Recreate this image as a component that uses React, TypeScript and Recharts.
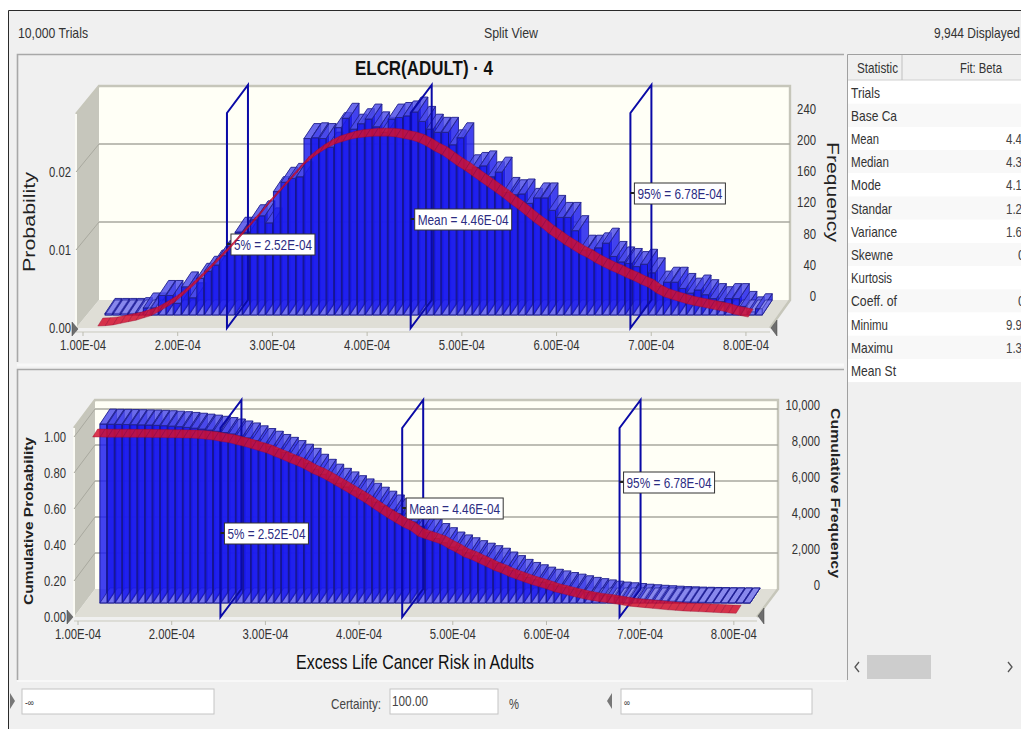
import React from 'react';
import { Bar, CartesianGrid, ComposedChart, Line, ReferenceLine, XAxis, YAxis } from 'recharts';

const binCenters = [
  1.156, 1.237, 1.318, 1.398, 1.479, 1.56, 1.641, 1.722, 1.802, 1.883,
  1.964, 2.045, 2.126, 2.206, 2.287, 2.368, 2.449, 2.53, 2.61, 2.691,
  2.772, 2.853, 2.934, 3.014, 3.095, 3.176, 3.257, 3.338, 3.418, 3.499,
  3.58, 3.661, 3.742, 3.822, 3.903, 3.984, 4.065, 4.146, 4.226, 4.307,
  4.388, 4.469, 4.55, 4.63, 4.711, 4.792, 4.873, 4.954, 5.034, 5.115,
  5.196, 5.277, 5.358, 5.438, 5.519, 5.6, 5.681, 5.762, 5.842, 5.923,
  6.004, 6.085, 6.166, 6.246, 6.327, 6.408, 6.489, 6.57, 6.65, 6.731,
  6.812, 6.893, 6.974, 7.054, 7.135, 7.216, 7.297, 7.378, 7.458, 7.539,
  7.62, 7.701, 7.782, 7.862, 7.943, 8.024,
];
const frequency = [
  2, 2, 2, 2, 3, 9, 9, 25, 25, 15,
  36, 22, 47, 56, 64, 76, 88, 106, 106, 122,
  127, 118, 158, 170, 175, 177, 226, 227, 226, 215,
  240, 252, 238, 245, 251, 241, 234, 251, 253, 255,
  260, 248, 238, 234, 234, 218, 227, 186, 189, 191,
  177, 183, 157, 154, 155, 143, 150, 150, 134, 125,
  125, 108, 83, 83, 86, 92, 75, 68, 66, 62,
  65, 54, 37, 42, 42, 34, 28, 32, 26, 21,
  17, 21, 21, 11, 4, 8,
];
const betaFit = [
  0.00025, 0.0003, 0.0004, 0.0006, 0.0008, 0.001, 0.0013, 0.0016, 0.0021, 0.0027,
  0.0033, 0.0041, 0.005, 0.0059, 0.0069, 0.0079, 0.0089, 0.0099, 0.011, 0.0121,
  0.0132, 0.0143, 0.0155, 0.0166, 0.0177, 0.0188, 0.0199, 0.021, 0.0218, 0.0225,
  0.0231, 0.0236, 0.0239, 0.0242, 0.0244, 0.0245, 0.0246, 0.0246, 0.0246, 0.0245,
  0.0243, 0.0241, 0.0238, 0.0233, 0.0227, 0.0222, 0.0215, 0.0208, 0.0202, 0.0195,
  0.0188, 0.0181, 0.0174, 0.0167, 0.0159, 0.0152, 0.0144, 0.0136, 0.0129, 0.0121,
  0.0114, 0.0107, 0.0101, 0.0095, 0.009, 0.0084, 0.0079, 0.0074, 0.007, 0.0065,
  0.0061, 0.0056, 0.0052, 0.0045, 0.004, 0.0037, 0.0034, 0.0031, 0.0029, 0.0027,
  0.0025, 0.0023, 0.0021, 0.0018, 0.0016, 0.0014,
];
const cumFrequency = [
  9940, 9930, 9925, 9915, 9905, 9895, 9885, 9870, 9850, 9825,
  9795, 9755, 9710, 9660, 9605, 9540, 9470, 9390, 9280, 9170,
  9010, 8860, 8710, 8530, 8370, 8190, 7990, 7760, 7430, 7150,
  6880, 6650, 6450, 6240, 6060, 5820, 5600, 5380, 5170, 4960,
  4730, 4500, 4260, 3930, 3580, 3350, 3110, 2950, 2790, 2630,
  2490, 2350, 2210, 2000, 1800, 1590, 1420, 1290, 1160, 1040,
  950, 860, 770, 680, 590, 520, 450, 380, 330, 290,
  250, 210, 180, 150, 125, 100, 80, 65, 50, 40,
  30, 22, 15, 10, 6, 2,
];
const cumBetaFit = [
  1, 1, 0.999, 0.999, 0.999, 0.998, 0.998, 0.998, 0.997, 0.997,
  0.996, 0.996, 0.995, 0.994, 0.992, 0.988, 0.983, 0.975, 0.969, 0.958,
  0.948, 0.936, 0.923, 0.911, 0.893, 0.877, 0.858, 0.842, 0.822, 0.798,
  0.78, 0.758, 0.733, 0.71, 0.685, 0.66, 0.635, 0.605, 0.578, 0.55,
  0.525, 0.5, 0.48, 0.449, 0.434, 0.42, 0.405, 0.38, 0.36, 0.335,
  0.32, 0.3, 0.28, 0.26, 0.245, 0.225, 0.21, 0.195, 0.18, 0.168,
  0.155, 0.14, 0.13, 0.12, 0.11, 0.1, 0.092, 0.085, 0.08, 0.073,
  0.067, 0.06, 0.056, 0.052, 0.048, 0.044, 0.04, 0.037, 0.034, 0.032,
  0.03, 0.028, 0.026, 0.024, 0.022, 0.021,
];

const xTicks = [1, 2, 3, 4, 5, 6, 7, 8];
const probTicks = [0, 0.01, 0.02];
const freqTicks = [0, 40, 80, 120, 160, 200, 240];
const cumProbTicks = [0, 0.2, 0.4, 0.6, 0.8, 1];
const cumFreqTicks = [0, 2000, 4000, 6000, 8000, 10000];
const markerValues = [2.52, 4.46, 6.78];
const markerNames = ['5%', 'Mean', '95%'];
const statNames = ['Trials', 'Base Ca', 'Mean', 'Median', 'Mode', 'Standar', 'Variance', 'Skewne', 'Kurtosis', 'Coeff. of', 'Minimu', 'Maximu', 'Mean St'];
const statNameWidths = [29, 46, 28, 38, 30, 41, 46, 42, 41, 46, 37, 42, 45];
const statValues = ['', '', '4.4', '4.3', '4.1', '1.2', '1.6', '0', '', '0', '9.9', '1.3', ''];

const FONT = "'Liberation Sans', Arial, sans-serif";

const freqRows = binCenters.map((x, i) => ({ x, count: frequency[i], fit: betaFit[i] }));
const cumRows = binCenters.map((x, i) => ({ x, count: cumFrequency[i], fit: cumBetaFit[i] }));

const BAR_W = 7.6;

// see-through box: the faces stack up, so only neighbouring bars give the deep blue
const Box3D = (baseShift: number) => (props: any) => {
  const { x, y, width, height } = props;
  if (x == null) return null;
  const w = width;
  const fx = x + 11;
  const ft = y + baseShift + 15;
  const fb = y + height + baseShift + 15;
  const dx = 10;
  const dy = -15;
  const p = (pts: number[][]) => pts.map(q => q.join(',')).join(' ');
  const face = 'rgba(26,26,238,0.58)';
  return (
    <g stroke="#16168c" strokeWidth={0.9}>
      <rect x={fx + dx} y={ft + dy} width={w} height={Math.max(0, fb - ft)} fill={face} stroke="none" />
      <polygon points={p([[fx, ft], [fx + dx, ft + dy], [fx + dx, fb + dy], [fx, fb]])} fill={face} stroke="none" />
      <polygon points={p([[fx + w, ft], [fx + w + dx, ft + dy], [fx + w + dx, fb + dy], [fx + w, fb]])} fill={face} stroke="#2a2a90" />
      <rect x={fx} y={ft} width={w} height={Math.max(0, fb - ft)} fill={face} />
      <polygon points={p([[fx, ft], [fx + w, ft], [fx + w + dx, ft + dy], [fx + dx, ft + dy]])} fill="rgba(95,95,232,0.6)" stroke="#22228c" />
      <polygon points={p([[fx, fb], [fx + w, fb], [fx + w + dx, fb + dy], [fx + dx, fb + dy]])} fill="rgba(125,125,250,0.45)" strokeWidth={0.7} />
    </g>
  );
};

// red fit ribbon, one sheared segment for each bin
const makeRibbon = () => {
  let prev: { x: number; y: number } | null = null;
  return (props: any) => {
    const { cx, cy, index } = props;
    const last = index === 0 ? null : prev;
    prev = { x: cx, y: cy };
    if (!last) return <g key={index} />;
    const pts = [[last.x, last.y], [cx, cy], [cx + 5, cy - 8], [last.x + 5, last.y - 8]];
    return (
      <polygon
        key={index}
        points={pts.map(q => q.join(',')).join(' ')}
        fill="rgba(212,16,46,0.84)"
        stroke="rgba(150,10,50,0.55)"
        strokeWidth={0.7}
      />
    );
  };
};

const XTick = (props: any) => {
  const { x, y, payload } = props;
  return (
    <g>
      <line x1={x} x2={x} y1={y - 4} y2={y} stroke="#bbbbb0" />
      <text x={x} y={y + 14} textAnchor="middle" fontFamily={FONT} fontSize={15} fill="#333" textLength={46} lengthAdjust="spacingAndGlyphs">
        {payload.value.toFixed(2)}E-04
      </text>
    </g>
  );
};

const LeftTick = (offset: number) => (props: any) => {
  const { x, y, payload } = props;
  return (
    <text x={x + offset} y={y + 5} textAnchor="end" fontFamily={FONT} fontSize={15} fill="#333" textLength={22} lengthAdjust="spacingAndGlyphs">
      {payload.value.toFixed(2)}
    </text>
  );
};

const RightTick = (offset: number) => (props: any) => {
  const { x, y, payload } = props;
  const label = payload.value.toLocaleString('en-US');
  const digits = String(payload.value).length;
  return (
    <text x={x + offset} y={y + 5} textAnchor="end" fontFamily={FONT} fontSize={15} fill="#333" textLength={digits * 6.3 + (digits > 3 ? 3 : 0)} lengthAdjust="spacingAndGlyphs">
      {label}
    </text>
  );
};

const GridShape = (g: any) => (props: any) => {
  const y = props.y1;
  return (
    <g key={props.key ?? y} fill="none" stroke="#a9a99f" strokeWidth={1.4}>
      <line x1={g.left} y1={y} x2={g.left + g.depthX} y2={y - g.depthY} strokeWidth={1} />
      <line x1={g.left + g.depthX} y1={y - g.depthY} x2={g.backRight} y2={y - g.depthY} />
    </g>
  );
};

const MarkerShape = (g: any, label: string, boxTop: number, boxW: number) => (props: any) => {
  const x = props.x1;
  const y0 = g.bottom;
  const y1 = g.markerFrontTop;
  const pts = [[x, y0], [x, y1], [x + 21, y1 - g.depthY], [x + 21, y0 - g.depthY]];
  return (
    <g>
      <polygon points={pts.map(q => q.join(',')).join(' ')} fill="none" stroke="#0a0aa6" strokeWidth={2} />
      <line x1={x} x2={x + 4} y1={boxTop + 10} y2={boxTop + 10} stroke="#222" strokeWidth={2} />
      <rect x={x + 4} y={boxTop} width={boxW} height={21} fill="#fff" stroke="#333" />
      <text x={x + 7} y={boxTop + 15.5} fontFamily={FONT} fontSize={15} fill="#2c2c82" textLength={boxW - 6} lengthAdjust="spacingAndGlyphs">
        {label}
      </text>
    </g>
  );
};

const Panel = ({ rows, g, leftTicks, rightTicks, leftDomain, rightDomain, xDomain, boxTops, baseShift }: any) => (
  <div style={{ position: 'absolute', left: 0, top: 0 }}>
    <ComposedChart
      width={g.width}
      height={g.height}
      data={rows}
      margin={{ top: g.top, bottom: g.height - g.bottom - 30, left: 0, right: g.width - g.right - 70 }}
    >
      <CartesianGrid yAxisId="prob" vertical={false} horizontal={GridShape(g)} horizontalValues={leftTicks.slice(1)} />
      <XAxis dataKey="x" type="number" domain={xDomain} ticks={xTicks} axisLine={false} tickLine={false} height={30} tick={XTick} interval={0} />
      <YAxis yAxisId="prob" orientation="left" type="number" domain={leftDomain} ticks={leftTicks} axisLine={false} tickLine={false} width={g.left} tick={LeftTick(g.leftLabel)} interval={0} />
      <YAxis yAxisId="freq" orientation="right" type="number" domain={rightDomain} ticks={rightTicks} axisLine={false} tickLine={false} width={70} tick={RightTick(g.rightLabel)} interval={0} />
      <Bar yAxisId="freq" dataKey="count" barSize={BAR_W} shape={Box3D(baseShift)} isAnimationActive={false} />
      <Line yAxisId="prob" dataKey="fit" stroke="none" dot={makeRibbon()} activeDot={false} isAnimationActive={false} />
      {markerValues.map((v, i) => (
        <ReferenceLine
          key={v}
          yAxisId="prob"
          x={v}
          ifOverflow="visible"
          shape={MarkerShape(g, `${markerNames[i]} = ${v.toFixed(2)}E-04`, boxTops[i], [84, 97, 91][i])}
        />
      ))}
    </ComposedChart>
  </div>
);

const topGeom = { width: 850, height: 360, top: 86, bottom: 328, left: 76, right: 770, backRight: 790, depthX: 23, depthY: 28, markerFrontTop: 113, rightLabel: 38, leftLabel: 3 };
const bottomGeom = { width: 850, height: 660, top: 400, bottom: 617, left: 74, right: 757, backRight: 778, depthX: 21, depthY: 28, markerFrontTop: 428, rightLabel: 55, leftLabel: 0 };

const Walls = ({ g, axisY }: any) => {
  const b = g.left + g.depthX;
  const t = g.top;
  const f = g.bottom;
  const r = g.backRight;
  const back = f - g.depthY;
  return (
    <g>
      <polygon points={`${g.left},${t + g.depthY} ${b},${t} ${b},${back} ${g.left},${f}`} fill="#c6c6bc" />
      <polygon points={`${g.left},${f} ${b},${back} ${r},${back} ${g.right},${f}`} fill="#dfded6" />
      <rect x={b} y={t} width={r - b} height={back - t} fill="#fffff6" />
      <path d={`M${g.left} ${t + g.depthY} L${b} ${t} H${r} V${back} L${g.right} ${f}`} fill="none" stroke="#c6c6ba" strokeWidth={2.4} />
      <line x1={g.left} x2={g.left} y1={t + g.depthY} y2={f} stroke="#fafaf4" strokeWidth={2} />
      <line x1={g.left} x2={g.right} y1={axisY} y2={axisY} stroke="#c9c9bd" strokeWidth={1} />
    </g>
  );
};

const Handles = ({ lx, ly, rx, ry }: any) => (
  <g fill="#6e6e6e" stroke="#444" strokeWidth={0.5}>
    <polygon points={`${lx},${ly - 7} ${lx + 6},${ly} ${lx},${ly + 7}`} />
    <polygon points={`${rx + 6},${ry - 8} ${rx},${ry} ${rx + 6},${ry + 8}`} />
  </g>
);

const Label = ({ x, y, w, size = 15, fill = '#333', children }: any) => (
  <text x={x} y={y} fontFamily={FONT} fontSize={size} fill={fill} textLength={w} lengthAdjust="spacingAndGlyphs">{children}</text>
);

const Input = ({ x, w, text, tx, tw, size }: any) => (
  <g>
    <rect x={x} y={689} width={w} height={25} fill="#fff" stroke="#c4c4c4" />
    <Label x={tx} y={706} w={tw} size={size} fill="#444">{text}</Label>
  </g>
);

const Chrome = () => (
  <svg width={1021} height={729} style={{ position: 'absolute', left: 0, top: 0 }}>
    <rect x={0} y={0} width={1021} height={729} fill="#fff" />
    <rect x={9} y={11} width={1012} height={718} fill="#f0f0f0" />
    <path d="M8.5 729 V10.5 H1021" fill="none" stroke="#2a2a2a" />
    <Label x={18} y={38} w={70} size={15}>10,000 Trials</Label>
    <Label x={484} y={38} w={54} size={15}>Split View</Label>
    <Label x={934} y={38} w={86} size={15}>9,944 Displayed</Label>
    <path d="M17.5 362 V54.5 H844" fill="none" stroke="#a8a8a8" strokeWidth={1.6} />
    <path d="M17.5 680 V369.5 H844" fill="none" stroke="#a8a8a8" strokeWidth={1.6} />
    <line x1={17} x2={844} y1={365} y2={365} stroke="#f8f8f8" strokeWidth={3} />
    <line x1={17} x2={846} y1={681} y2={681} stroke="#f8f8f8" strokeWidth={2} />
    <Walls g={topGeom} axisY={332} />
    <Walls g={bottomGeom} axisY={621} />
  </svg>
);

const rowTop = (i: number) => 80.5 + i * 23.2;

const Overlay = () => (
  <svg width={1021} height={729} style={{ position: 'absolute', left: 0, top: 0, pointerEvents: 'none' }}>
    <text x={355} y={75} fontFamily={FONT} fontWeight="bold" fontSize={20} fill="#111" textLength={138} lengthAdjust="spacingAndGlyphs">ELCR(ADULT) · 4</text>
    <text transform="translate(35,272) rotate(-90)" fontFamily={FONT} fontSize={16} fill="#222" textLength={100} lengthAdjust="spacingAndGlyphs">Probability</text>
    <text transform="translate(827,142) rotate(90)" fontFamily={FONT} fontSize={16} fill="#222" textLength={100} lengthAdjust="spacingAndGlyphs">Frequency</text>
    <text transform="translate(33,605) rotate(-90)" fontFamily={FONT} fontWeight="bold" fontSize={13} fill="#222" textLength={168} lengthAdjust="spacingAndGlyphs">Cumulative Probability</text>
    <text transform="translate(831,408) rotate(90)" fontFamily={FONT} fontWeight="bold" fontSize={13} fill="#222" textLength={170} lengthAdjust="spacingAndGlyphs">Cumulative Frequency</text>
    <text x={296} y={669} fontFamily={FONT} fontSize={21} fill="#111" textLength={238} lengthAdjust="spacingAndGlyphs">Excess Life Cancer Risk in Adults</text>
    <Handles lx={72} ly={329} rx={771} ry={328} />
    <Handles lx={67} ly={617} rx={758} ry={616} />

    {/* statistics table */}
    <rect x={847} y={54} width={174} height={626} fill="#f0f0f0" />
    <rect x={847} y={80} width={174} height={302} fill="#fff" />
    {statNames.map((n, i) => (
      <g key={n}>
        <rect x={848} y={rowTop(i)} width={173} height={23.2} fill={i % 2 ? '#f8f8f8' : '#fff'} />
        <Label x={851} y={rowTop(i) + 17} w={statNameWidths[i]}>{n}</Label>
        {statValues[i] && (
          <Label x={statValues[i] === '0' ? 1018 : 1006} y={rowTop(i) + 17} w={statValues[i] === '0' ? 7 : 16} fill="#444">{statValues[i]}</Label>
        )}
      </g>
    ))}
    <path d="M847.5 680 V54.5 H1021" fill="none" stroke="#a0a0a0" />
    <line x1={848} x2={1021} y1={80} y2={80} stroke="#d0d0d0" />
    <line x1={902} x2={902} y1={55} y2={80} stroke="#c0c0c0" />
    <Label x={857} y={73} w={41}>Statistic</Label>
    <Label x={960} y={73} w={42}>Fit: Beta</Label>
    <rect x={848} y={654} width={173} height={26} fill="#f0f0f0" />
    <rect x={867} y={655} width={64} height={24} fill="#cdcdcd" />
    <path d="M859 662 L855 667 L859 672 M1008 662 L1012 667 L1008 672" fill="none" stroke="#555" strokeWidth={1.3} />

    {/* certainty row */}
    <polygon points="10,693 15,701 10,709" fill="#777" />
    <Input x={22} w={192} text="-∞" tx={25} tw={9} size={10} />
    <Label x={331} y={709} w={50} fill="#444">Certainty:</Label>
    <Input x={390} w={108} text="100.00" tx={392} tw={36} size={15} />
    <Label x={509} y={709} w={10} fill="#444">%</Label>
    <polygon points="612,693 607,701 612,709" fill="#777" />
    <Input x={621} w={191} text="∞" tx={624} tw={6} size={10} />
  </svg>
);

export default function App() {
  return (
    <div style={{ position: 'absolute', left: 0, top: 0, width: 1021, height: 729, overflow: 'hidden' }}>
      <Chrome />
      <Panel
        rows={freqRows}
        g={topGeom}
        leftTicks={probTicks}
        rightTicks={freqTicks}
        leftDomain={[0, 0.03103]}
        rightDomain={[-41, 269]}
        xDomain={[0.926, 8.254]}
        boxTops={[234, 209, 183]}
        baseShift={4}
      />
      <Panel
        rows={cumRows}
        g={bottomGeom}
        leftTicks={cumProbTicks}
        rightTicks={cumFreqTicks}
        leftDomain={[0, 1.2056]}
        rightDomain={[-1778, 10278]}
        xDomain={[0.957, 8.247]}
        boxTops={[523, 498, 472]}
        baseShift={3}
      />
      <Overlay />
    </div>
  );
}
